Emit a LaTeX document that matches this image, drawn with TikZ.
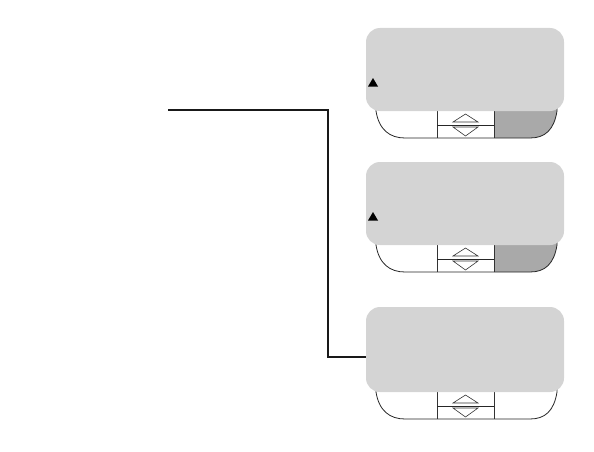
\documentclass[tikz,border=0pt]{standalone}
\begin{document}
\begin{tikzpicture}[x=1pt,y=-1pt]
\definecolor{dispgray}{HTML}{D4D4D4}
\definecolor{keygray}{HTML}{A9A9A9}
\tikzset{
  display/.style={fill=dispgray, draw=none, rounded corners=14pt, minimum width=198pt, inner sep=0pt},
  outline/.style={draw=black!85, line width=0.8pt},
  thinl/.style={draw=black!80, line width=0.6pt},
  conn/.style={draw=black!90, line width=1.3pt},
  marker/.style={fill=black}
}
\useasboundingbox (0,0) rectangle (594,452);
% button bars
\newcommand{\panelbar}[2]{%
  \begin{scope}
    \clip (376,#1-6) -- (376,#1) .. controls (379,#1+19) and (390,#1+27) .. (405,#1+27) -- (530,#1+27) .. controls (545,#1+27) and (554,#1+19) .. (557,#1) -- (557,#1-6) -- cycle;
    \ifnum#2=1 \fill[keygray] (494,#1-6) rectangle (560,#1+28);\fi
  \end{scope}
  \draw[outline] (376,#1-4) -- (376,#1) .. controls (379,#1+19) and (390,#1+27) .. (405,#1+27) -- (530,#1+27) .. controls (545,#1+27) and (554,#1+19) .. (557,#1) -- (557,#1-4);
  \draw[thinl] (437,#1-4) -- (437,#1+27);
  \draw[thinl] (494,#1-4) -- (494,#1+27);
  \draw[outline] (437,#1+14) -- (494,#1+14);
  \draw[thinl] (453,#1+11) -- (465.5,#1+3) -- (478,#1+11) -- cycle;
  \draw[thinl] (453,#1+16) -- (478,#1+16) -- (465.5,#1+25) -- cycle;
}
\panelbar{111}{1}
\panelbar{245}{1}
\panelbar{392}{0}
% displays
\node[display, minimum height=83pt] (d1) at (465,69.5) {};
\node[display, minimum height=83pt] (d2) at (465,203.5) {};
\node[display, minimum height=85pt] (d3) at (465,349.5) {};
% small markers
\fill[marker] (368,86.5) -- (378,86.5) -- (373,78) -- cycle;
\fill[marker] (368,220.5) -- (378,220.5) -- (373,212) -- cycle;
% connector
\coordinate (s) at (168,110);
\coordinate (c1) at (328,357);
\draw[conn] (s) -| (c1) -- (d3.west |- c1);
\end{tikzpicture}
\end{document}
